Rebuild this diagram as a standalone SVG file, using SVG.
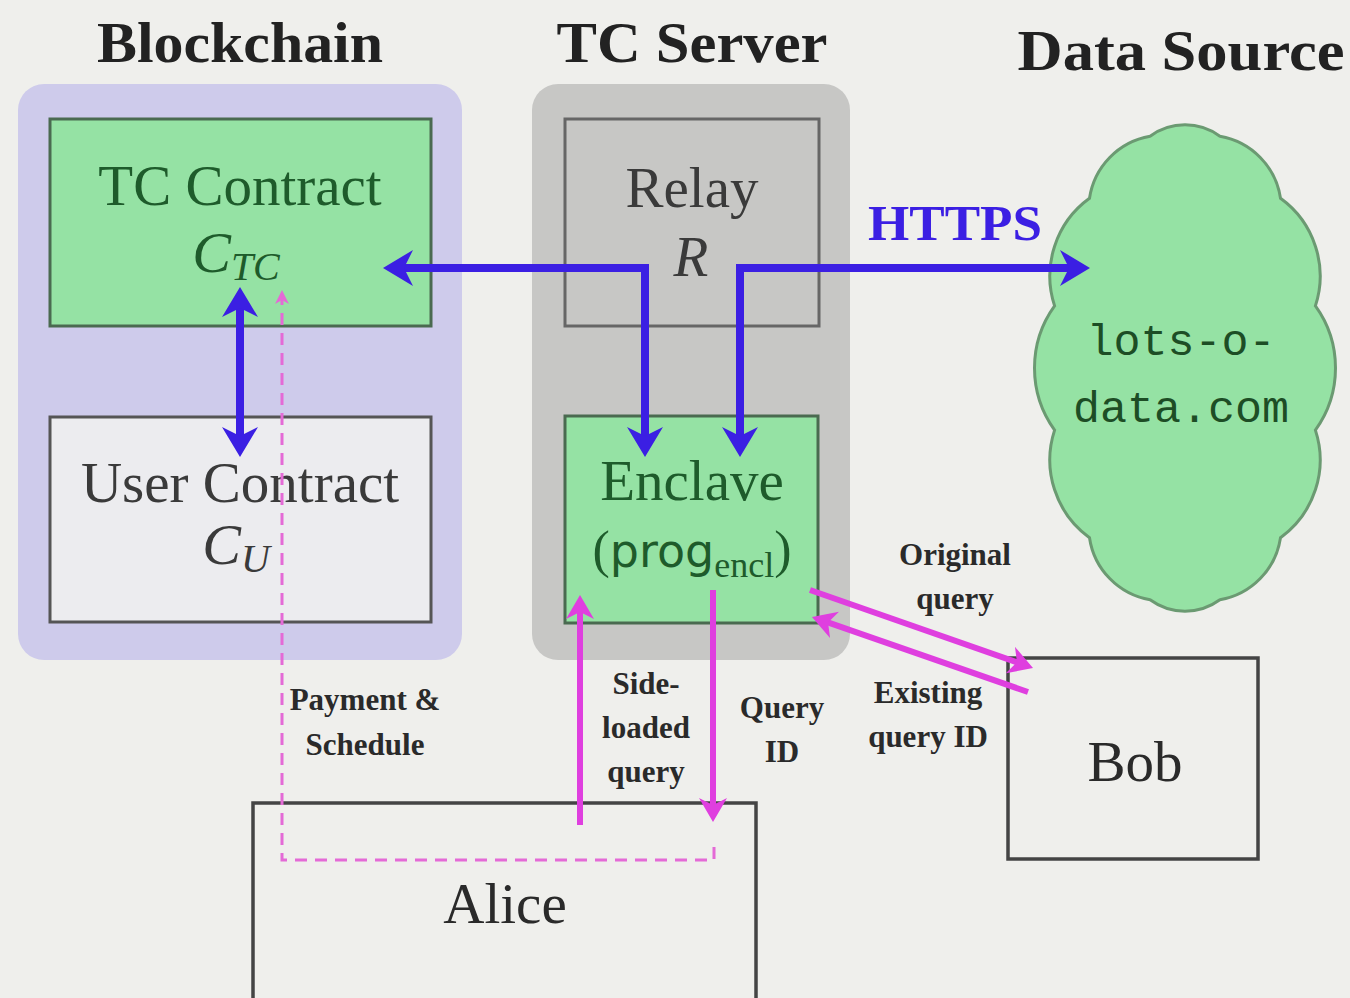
<svg xmlns="http://www.w3.org/2000/svg" width="1350" height="998" viewBox="0 0 1350 998">
  <style>
    .title { font-family: "Liberation Serif", "Times New Roman", serif; font-weight: bold; font-size: 58px; fill: #222; text-anchor: middle; }
    .lbl { font-family: "Liberation Serif", "Times New Roman", serif; font-size: 57px; text-anchor: middle; }
    .math { font-family: "Liberation Serif", "Times New Roman", serif; font-style: italic; }
    .green-txt { fill: #1e5b2b; }
    .gray-txt { fill: #3a3a3a; }
    .small { font-family: "Liberation Serif", "Times New Roman", serif; font-weight: bold; font-size: 31px; fill: #2a2a2a; text-anchor: middle; }
    .mono { font-family: "Liberation Mono", "Courier New", monospace; font-size: 45px; fill: #1d4d25; text-anchor: middle; }
    .green-box { fill: #95e2a4; stroke: #4a6a50; stroke-width: 3; }
    .gray-box { fill: #c7c7c5; stroke: #666; stroke-width: 3; }
    .white-box { fill: #ececef; stroke: #555; stroke-width: 3; }
    .actor-box { fill: #efefec; stroke: #444; stroke-width: 3.5; }
    .blue { fill: none; stroke: #3b1fe3; stroke-width: 8; stroke-linejoin: miter; }
    .mag { fill: none; stroke: #df3fdf; stroke-width: 6; }
    .dash { fill: none; stroke: #e46ad6; stroke-width: 3; stroke-dasharray: 12 8; }
  </style>
  <defs>
    <marker id="ahBlue" viewBox="0 -18 30 36" markerWidth="30" markerHeight="36" markerUnits="userSpaceOnUse" refX="10" refY="0" orient="auto-start-reverse">
      <path d="M0,-18 L30,0 L0,18 L9,0 Z" fill="#3b1fe3"/>
    </marker>
    <marker id="ahMag" viewBox="0 -14 24 28" markerWidth="24" markerHeight="28" markerUnits="userSpaceOnUse" refX="8" refY="0" orient="auto-start-reverse">
      <path d="M0,-14 L24,0 L0,14 L7,0 Z" fill="#df3fdf"/>
    </marker>
    <marker id="ahPink" viewBox="0 -8 14 16" markerWidth="14" markerHeight="16" markerUnits="userSpaceOnUse" refX="4" refY="0" orient="auto">
      <path d="M0,-7 L14,0 L0,7 L4,0 Z" fill="#e46ad6"/>
    </marker>
  </defs>

  <!-- background -->
  <rect x="0" y="0" width="1350" height="998" fill="#efefec"/>

  <!-- column titles -->
  <text class="title" x="240" y="62" textLength="286" lengthAdjust="spacingAndGlyphs">Blockchain</text>
  <text class="title" x="692" y="62" textLength="271" lengthAdjust="spacingAndGlyphs">TC Server</text>
  <text class="title" x="1181" y="70" textLength="327" lengthAdjust="spacingAndGlyphs">Data Source</text>

  <!-- group panels -->
  <g id="blockchain-panel">
    <rect x="18" y="84" width="444" height="576" rx="26" fill="#cecbeb"/>
  </g>
  <g id="tcserver-panel">
    <rect x="532" y="84" width="318" height="576" rx="26" fill="#c7c7c5"/>
  </g>

  <!-- nodes -->
  <g id="tc-contract">
    <rect class="green-box" x="50" y="119" width="381" height="207"/>
    <text class="lbl green-txt" x="240" y="205">TC Contract</text>
    <text class="lbl green-txt math" x="236" y="272"><tspan font-size="58">C</tspan><tspan font-size="40" dy="8">TC</tspan></text>
  </g>

  <g id="user-contract">
    <rect class="white-box" x="50" y="417" width="381" height="205"/>
    <text class="lbl gray-txt" x="240" y="502">User Contract</text>
    <text class="lbl gray-txt math" x="236" y="564"><tspan font-size="58">C</tspan><tspan font-size="40" dy="8">U</tspan></text>
  </g>

  <g id="relay">
    <rect class="gray-box" x="565" y="119" width="254" height="207"/>
    <text class="lbl gray-txt" x="692" y="207">Relay</text>
    <text class="lbl gray-txt math" x="691" y="276" font-size="58">R</text>
  </g>

  <g id="enclave">
    <rect class="green-box" x="565" y="416" width="253" height="207"/>
    <text class="lbl green-txt" x="692" y="500">Enclave</text>
    <text class="green-txt" x="692" y="567" text-anchor="middle" font-family="Liberation Serif, serif" font-size="52"><tspan>(</tspan><tspan font-family="DejaVu Sans, sans-serif" font-size="46">prog</tspan><tspan font-size="36" dy="10">encl</tspan><tspan dy="-10">)</tspan></text>
  </g>

  <g id="data-source">
    <path d="M1150.1,136.2 A59,59 0 0 1 1219.9,136.2 A74,74 0 0 1 1280.5,198.3 A96,96 0 0 1 1315.4,305.9 A106,106 0 0 1 1315.4,430.1 A96,96 0 0 1 1280.5,537.7 A74,74 0 0 1 1219.9,599.8 A59,59 0 0 1 1150.1,599.8 A74,74 0 0 1 1089.5,537.7 A96,96 0 0 1 1054.6,430.1 A106,106 0 0 1 1054.6,305.9 A96,96 0 0 1 1089.5,198.3 A74,74 0 0 1 1150.1,136.2 Z" fill="#95e2a4" stroke="#6b9a72" stroke-width="3"/>
    <text class="mono" x="1181" y="355">lots-o-</text>
    <text class="mono" x="1181" y="422">data.com</text>
  </g>

  <g id="alice">
    <rect class="actor-box" x="253" y="803" width="503" height="210"/>
    <text class="lbl" x="505" y="923" fill="#2a2a2a">Alice</text>
  </g>

  <g id="bob">
    <rect class="actor-box" x="1008" y="658" width="250" height="201"/>
    <text class="lbl" x="1135" y="781" fill="#2a2a2a">Bob</text>
  </g>

  <!-- connectors -->
  <g id="connectors">
    <!-- blockchain side: contract <-> user contract -->
    <path class="blue" d="M240,307 V437" marker-start="url(#ahBlue)" marker-end="url(#ahBlue)"/>
    <!-- relay: contract <-> enclave -->
    <path class="blue" d="M403,268 H645 V437" marker-start="url(#ahBlue)" marker-end="url(#ahBlue)"/>
    <!-- relay: enclave <-> data source over HTTPS -->
    <path class="blue" d="M740,437 V268 H1070" marker-start="url(#ahBlue)" marker-end="url(#ahBlue)"/>

    <!-- Alice side-loaded query and returned query ID -->
    <path class="mag" d="M580,825 V611" marker-end="url(#ahMag)"/>
    <path class="mag" d="M713,590 V806" marker-end="url(#ahMag)"/>

    <!-- Bob original query / existing query ID -->
    <path class="mag" d="M810,590 L1017.9,662.7" marker-end="url(#ahMag)"/>
    <path class="mag" d="M1028,692 L827.1,622.2" marker-end="url(#ahMag)"/>

    <!-- payment & schedule, dashed -->
    <path class="dash" d="M714,847 V860 H282 V300" marker-end="url(#ahPink)"/>
  </g>

  <!-- connector labels -->
  <text x="955" y="240" text-anchor="middle" font-family="Liberation Serif, serif" font-weight="bold" font-size="50" fill="#3b1fe3" textLength="174" lengthAdjust="spacingAndGlyphs">HTTPS</text>

  <text class="small" x="955" y="565">Original</text>
  <text class="small" x="955" y="609">query</text>

  <text class="small" x="928" y="703">Existing</text>
  <text class="small" x="928" y="747">query ID</text>

  <text class="small" x="782" y="718">Query</text>
  <text class="small" x="782" y="762">ID</text>

  <text class="small" x="646" y="694">Side-</text>
  <text class="small" x="646" y="738">loaded</text>
  <text class="small" x="646" y="782">query</text>

  <text class="small" x="365" y="710">Payment &amp;</text>
  <text class="small" x="365" y="755">Schedule</text>
</svg>
